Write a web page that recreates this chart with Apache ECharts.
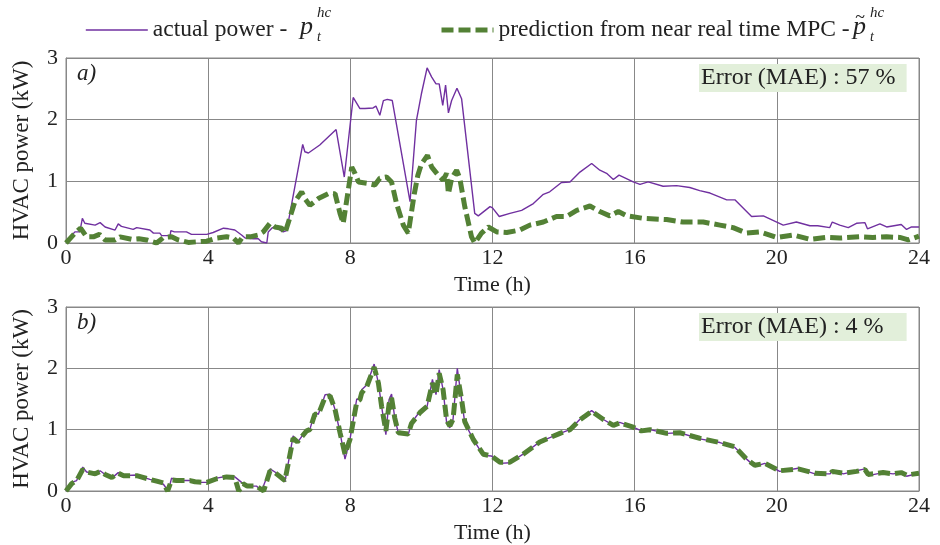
<!DOCTYPE html>
<html>
<head>
<meta charset="utf-8">
<script src="https://cdn.jsdelivr.net/npm/echarts@6/dist/echarts.min.js"></script>
<style>
  html, body { margin: 0; padding: 0; background: #fff; }
  #chart { width: 940px; height: 545px; }
</style>
</head>
<body>
<div id="chart"></div>
<script>
// a) actual power (hours, kW)
let topActualTime = [0, 0.25, 0.39, 0.46, 0.53, 0.82, 0.96, 1.1, 1.38, 1.47, 1.56, 1.89, 1.99, 2.36, 2.46, 2.64, 2.69, 2.93, 2.95, 3.05, 3.39, 3.53, 3.96, 4.14, 4.43, 4.57, 4.75, 4.94, 5.04, 5.27, 5.41, 5.5, 5.65, 5.69, 5.79, 5.93, 6.02, 6.11, 6.21, 6.66, 6.72, 6.82, 7.14, 7.6, 7.83, 8.08, 8.27, 8.41, 8.64, 8.72, 8.83, 8.93, 9.04, 9.18, 9.68, 9.86, 10.0, 10.16, 10.29, 10.41, 10.5, 10.6, 10.68, 10.76, 10.85, 11.0, 11.13, 11.5, 11.6, 11.93, 12.0, 12.19, 12.49, 12.82, 13.15, 13.43, 13.61, 13.94, 14.18, 14.46, 14.79, 15.02, 15.21, 15.4, 15.56, 15.96, 16.15, 16.38, 16.8, 17.18, 17.55, 17.83, 18.12, 18.59, 18.82, 19.29, 19.62, 20.18, 20.55, 20.93, 21.15, 21.49, 21.56, 21.77, 22.01, 22.24, 22.48, 22.55, 22.9, 23.09, 23.5, 23.65, 23.79, 24];
let topActual = [0.02, 0.18, 0.18, 0.40, 0.32, 0.29, 0.33, 0.26, 0.21, 0.31, 0.27, 0.22, 0.25, 0.21, 0.16, 0.16, 0.12, 0.12, 0.20, 0.18, 0.18, 0.14, 0.14, 0.17, 0.24, 0.23, 0.21, 0.13, 0.08, 0.07, 0.07, 0.02, 0.0, 0.18, 0.24, 0.28, 0.21, 0.18, 0.20, 1.60, 1.48, 1.46, 1.59, 1.84, 1.07, 2.36, 2.18, 2.18, 2.19, 2.22, 2.07, 2.31, 2.33, 2.31, 0.67, 1.99, 2.42, 2.84, 2.69, 2.58, 2.58, 2.23, 2.56, 2.11, 2.31, 2.51, 2.34, 0.48, 0.44, 0.59, 0.57, 0.43, 0.48, 0.53, 0.64, 0.79, 0.83, 0.98, 0.99, 1.15, 1.29, 1.18, 1.13, 1.03, 1.10, 0.99, 0.95, 0.99, 0.92, 0.93, 0.90, 0.85, 0.81, 0.70, 0.70, 0.43, 0.44, 0.29, 0.34, 0.28, 0.28, 0.25, 0.34, 0.29, 0.25, 0.32, 0.33, 0.23, 0.31, 0.26, 0.30, 0.22, 0.26, 0.26];

// a) prediction from near real time MPC
let topPredTime = [0, 0.25, 0.41, 0.58, 0.77, 0.94, 1.1, 1.38, 1.52, 1.85, 2.05, 2.27, 2.55, 2.74, 2.97, 3.16, 3.44, 3.96, 4.24, 4.52, 4.71, 4.85, 4.97, 5.18, 5.41, 5.55, 5.74, 5.88, 6.07, 6.16, 6.44, 6.63, 6.72, 6.86, 7.1, 7.38, 7.57, 7.71, 7.8, 7.9, 8.04, 8.13, 8.23, 8.46, 8.69, 8.83, 9.02, 9.16, 9.3, 9.49, 9.63, 9.68, 9.8, 9.9, 10.0, 10.17, 10.29, 10.47, 10.61, 10.71, 10.76, 10.85, 10.99, 11.08, 11.22, 11.41, 11.5, 11.69, 11.88, 12.12, 12.4, 12.77, 13.05, 13.43, 13.8, 14.08, 14.37, 14.74, 15.02, 15.3, 15.54, 15.78, 16.24, 16.9, 17.36, 17.93, 18.4, 18.77, 19.15, 19.52, 19.99, 20.46, 20.93, 21.4, 21.77, 22.33, 22.7, 23.09, 23.46, 23.7, 24];
let topPred = [0, 0.16, 0.24, 0.10, 0.10, 0.14, 0.05, 0.05, 0.10, 0.06, 0.07, 0.05, 0.0, 0.09, 0.10, 0.05, 0.01, 0.03, 0.08, 0.10, 0.08, 0.0, 0.10, 0.10, 0.13, 0.18, 0.32, 0.26, 0.24, 0.16, 0.67, 0.83, 0.72, 0.61, 0.72, 0.80, 0.80, 0.48, 0.32, 0.70, 1.23, 1.13, 0.99, 0.97, 0.94, 1.05, 1.07, 0.99, 0.64, 0.29, 0.16, 0.16, 0.80, 1.10, 1.28, 1.42, 1.23, 1.10, 1.02, 1.13, 0.80, 1.05, 1.18, 1.05, 0.59, 0.10, 0.0, 0.16, 0.26, 0.18, 0.17, 0.21, 0.29, 0.34, 0.43, 0.43, 0.53, 0.60, 0.51, 0.44, 0.51, 0.44, 0.40, 0.38, 0.34, 0.34, 0.29, 0.25, 0.16, 0.18, 0.09, 0.13, 0.06, 0.09, 0.08, 0.10, 0.09, 0.10, 0.09, 0.05, 0.11];

// b) actual power
let botActualTime = [0, 0.16, 0.3, 0.47, 0.58, 0.82, 0.96, 1.1, 1.29, 1.47, 1.62, 1.99, 2.36, 2.55, 2.74, 2.88, 2.97, 3.11, 3.49, 3.63, 3.96, 4.24, 4.52, 4.75, 4.94, 5.04, 5.36, 5.5, 5.74, 5.88, 6.16, 6.39, 6.51, 6.77, 6.86, 7.0, 7.1, 7.29, 7.43, 7.57, 7.71, 7.85, 7.99, 8.18, 8.27, 8.32, 8.46, 8.67, 8.79, 8.88, 9.0, 9.09, 9.16, 9.25, 9.35, 9.63, 9.72, 9.96, 10.16, 10.31, 10.41, 10.5, 10.61, 10.71, 10.8, 10.89, 11.01, 11.13, 11.22, 11.46, 11.74, 11.97, 12.21, 12.49, 12.86, 13.33, 13.9, 14.18, 14.46, 14.79, 15.11, 15.4, 15.58, 15.96, 16.19, 16.43, 16.9, 17.27, 17.83, 18.4, 18.82, 19.15, 19.38, 19.66, 20.08, 20.6, 21.07, 21.5, 21.56, 21.87, 22.24, 22.48, 22.57, 22.99, 23.27, 23.5, 23.65, 24];
let botActual = [0, 0.14, 0.17, 0.39, 0.31, 0.29, 0.33, 0.27, 0.21, 0.30, 0.25, 0.26, 0.19, 0.16, 0.11, 0.0, 0.21, 0.17, 0.17, 0.14, 0.14, 0.21, 0.24, 0.23, 0.14, 0.08, 0.08, 0.0, 0.36, 0.31, 0.15, 0.90, 0.79, 1.0, 1.0, 1.28, 1.25, 1.57, 1.58, 1.33, 0.95, 0.52, 0.84, 1.50, 1.49, 1.65, 1.73, 2.07, 1.76, 1.38, 0.92, 1.49, 1.58, 1.19, 0.95, 0.92, 1.11, 1.30, 1.38, 1.82, 1.57, 1.98, 1.65, 1.11, 1.03, 1.17, 2.0, 1.49, 1.11, 0.84, 0.58, 0.57, 0.45, 0.46, 0.60, 0.80, 0.94, 1.0, 1.17, 1.31, 1.17, 1.07, 1.12, 1.04, 0.98, 1.0, 0.94, 0.95, 0.85, 0.79, 0.71, 0.52, 0.40, 0.45, 0.32, 0.37, 0.28, 0.28, 0.34, 0.28, 0.33, 0.36, 0.25, 0.30, 0.28, 0.30, 0.24, 0.29];

// b) prediction from near real time MPC
let botPredTime = [0, 0.16, 0.3, 0.47, 0.58, 0.82, 0.96, 1.1, 1.29, 1.47, 1.62, 1.99, 2.36, 2.55, 2.74, 2.86, 2.97, 3.11, 3.49, 3.63, 3.96, 4.24, 4.52, 4.75, 4.86, 4.98, 5.1, 5.36, 5.56, 5.74, 5.88, 6.16, 6.39, 6.51, 6.77, 6.86, 7.0, 7.1, 7.29, 7.43, 7.57, 7.71, 7.85, 7.99, 8.18, 8.27, 8.32, 8.46, 8.67, 8.79, 8.88, 9.0, 9.09, 9.16, 9.25, 9.35, 9.63, 9.72, 9.96, 10.16, 10.31, 10.41, 10.5, 10.61, 10.71, 10.8, 10.89, 11.01, 11.13, 11.22, 11.46, 11.74, 11.97, 12.21, 12.49, 12.86, 13.33, 13.9, 14.18, 14.46, 14.79, 15.11, 15.4, 15.58, 15.96, 16.19, 16.43, 16.9, 17.27, 17.83, 18.4, 18.82, 19.15, 19.38, 19.66, 20.08, 20.6, 21.07, 21.5, 21.56, 21.87, 22.24, 22.48, 22.57, 22.99, 23.27, 23.5, 23.65, 24];
let botPred = [0, 0.12, 0.17, 0.35, 0.31, 0.28, 0.32, 0.27, 0.22, 0.29, 0.25, 0.25, 0.19, 0.16, 0.13, 0.0, 0.18, 0.17, 0.17, 0.15, 0.14, 0.20, 0.23, 0.22, 0.0, 0.12, 0.08, 0.08, 0.0, 0.33, 0.30, 0.17, 0.86, 0.80, 0.98, 1.0, 1.25, 1.25, 1.53, 1.55, 1.33, 0.95, 0.60, 0.84, 1.45, 1.49, 1.60, 1.70, 2.02, 1.76, 1.38, 0.98, 1.42, 1.52, 1.19, 0.95, 0.93, 1.10, 1.28, 1.38, 1.76, 1.57, 1.92, 1.65, 1.15, 1.06, 1.17, 1.90, 1.49, 1.13, 0.84, 0.60, 0.57, 0.47, 0.47, 0.60, 0.80, 0.94, 1.0, 1.16, 1.30, 1.17, 1.07, 1.11, 1.04, 0.98, 1.0, 0.94, 0.95, 0.86, 0.79, 0.72, 0.52, 0.42, 0.45, 0.33, 0.36, 0.29, 0.28, 0.32, 0.29, 0.32, 0.35, 0.27, 0.30, 0.28, 0.30, 0.26, 0.29];

let hourTicks = [0, 4, 8, 12, 16, 20, 24];
let powerTicks = [0, 1, 2, 3];
let maeLabels = ['Error (MAE) : 57 %', 'Error (MAE) : 4 %'];
let nameActual = 'actual power - ';
let namePred = 'prediction from near real time MPC - ';

let serif = '"Liberation Serif", "DejaVu Serif", serif';
let purple = '#7030a0';
let green = '#538135';

function zip(xs, ys) {
  return xs.map(function (x, i) { return [x, ys[i]]; });
}

let chart = echarts.init(document.getElementById('chart'), null, { renderer: 'canvas' });

function xAxisFor(idx) {
  return {
    gridIndex: idx,
    type: 'value',
    min: hourTicks[0],
    max: hourTicks[hourTicks.length - 1],
    interval: 4,
    name: 'Time (h)',
    nameLocation: 'middle',
    nameGap: 31,
    nameTextStyle: { fontFamily: serif, fontSize: 22, color: '#222' },
    axisLine: { show: true, lineStyle: { color: '#888', width: 1 } },
    axisTick: { show: false },
    axisLabel: { fontFamily: serif, fontSize: 22, color: '#222', margin: 4 },
    splitLine: { show: true, lineStyle: { color: '#888', width: 1 } },
  };
}

function yAxisFor(idx) {
  return {
    gridIndex: idx,
    type: 'value',
    min: powerTicks[0],
    max: powerTicks[powerTicks.length - 1],
    interval: 1,
    name: 'HVAC power (kW)',
    nameLocation: 'middle',
    nameGap: 33,
    nameTextStyle: { fontFamily: serif, fontSize: 23, color: '#222' },
    axisLine: { show: true, lineStyle: { color: '#888', width: 1 } },
    axisTick: { show: false },
    axisLabel: { fontFamily: serif, fontSize: 22, color: '#222', margin: 8 },
    splitLine: { show: true, lineStyle: { color: '#888', width: 1 } },
  };
}

function actualSeries(idx, data) {
  return {
    name: nameActual,
    type: 'line',
    xAxisIndex: idx,
    yAxisIndex: idx,
    data: data,
    symbol: 'none',
    z: 2,
    lineStyle: { color: purple, width: 1.4 },
    itemStyle: { color: purple },
  };
}

function predSeries(idx, data) {
  return {
    name: namePred,
    type: 'line',
    xAxisIndex: idx,
    yAxisIndex: idx,
    data: data,
    symbol: 'none',
    z: 3,
    lineStyle: { color: green, width: 5, type: [12, 5], cap: 'butt' },
    itemStyle: { color: green },
  };
}

function mathText(left, top, text, size) {
  return {
    type: 'text',
    left: left,
    top: top,
    style: { text: text, fontFamily: serif, fontStyle: 'italic', fontSize: size, fill: '#222' },
  };
}

function maeTitle(text, top, padRight) {
  return {
    text: text,
    left: 699, top: top,
    padding: [2, padRight, 2, 2],
    backgroundColor: '#e2efda',
    textStyle: { fontFamily: serif, fontSize: 24, fontWeight: 'normal', color: '#222' },
  };
}

let option = {
  animation: false,
  backgroundColor: '#fff',
  grid: [
    { left: 66, right: 21, top: 58, height: 185, show: true, borderColor: '#888', borderWidth: 1 },
    { left: 66, right: 21, top: 307, height: 185, show: true, borderColor: '#888', borderWidth: 1 },
  ],
  xAxis: [xAxisFor(0), xAxisFor(1)],
  yAxis: [yAxisFor(0), yAxisFor(1)],
  legend: [
    {
      data: [nameActual],
      left: 80, top: 13,
      itemWidth: 62, itemHeight: 14,
      itemStyle: { opacity: 0 },
      lineStyle: { width: 1.6 },
      textStyle: { fontFamily: serif, fontSize: 23.5, color: '#222' },
    },
    {
      data: [namePred],
      left: 434, top: 13,
      itemWidth: 52, itemHeight: 14,
      itemStyle: { opacity: 0 },
      lineStyle: { width: 5, type: [12, 5] },
      textStyle: { fontFamily: serif, fontSize: 23.5, color: '#222' },
    },
  ],
  title: [
    maeTitle(maeLabels[0], 64, 11),
    maeTitle(maeLabels[1], 313, 23),
  ],
  graphic: [
    mathText(77, 62, 'a)', 23),
    mathText(77, 311, 'b)', 23),
    mathText(300, 14, 'p', 26),
    mathText(317, 30, 't', 14),
    mathText(317, 6, 'hc', 15),
    mathText(853, 14, 'p', 26),
    mathText(855, 9, '~', 18),
    mathText(870, 30, 't', 14),
    mathText(870, 6, 'hc', 15),
  ],
  series: [
    actualSeries(0, zip(topActualTime, topActual)),
    predSeries(0, zip(topPredTime, topPred)),
    actualSeries(1, zip(botActualTime, botActual)),
    predSeries(1, zip(botPredTime, botPred)),
  ],
};

chart.setOption(option);
window.addEventListener('resize', chart.resize);
</script>
</body>
</html>
